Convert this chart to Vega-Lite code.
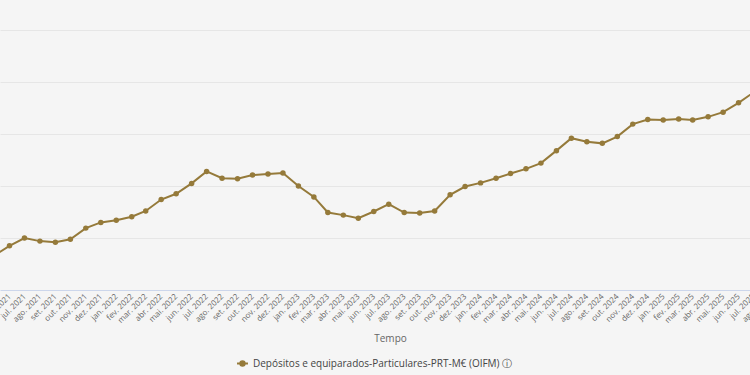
{
  "$schema": "https://vega.github.io/schema/vega-lite/v6.json",
  "autosize": "none",
  "padding": {"left": 0, "top": 0, "right": 0, "bottom": 85},
  "width": 775,
  "height": 290,
  "background": "#f5f5f5",
  "config": {
    "view": {"stroke": null},
    "font": "Open Sans"
  },
  "data": {
    "values": [
      {"mes": "2021-05-01", "valor": 166600, "serie": "Depósitos e equiparados-Particulares-PRT-M€ (OIFM)"},
      {"mes": "2021-06-01", "valor": 168500, "serie": "Depósitos e equiparados-Particulares-PRT-M€ (OIFM)"},
      {"mes": "2021-07-01", "valor": 170000, "serie": "Depósitos e equiparados-Particulares-PRT-M€ (OIFM)"},
      {"mes": "2021-08-01", "valor": 169400, "serie": "Depósitos e equiparados-Particulares-PRT-M€ (OIFM)"},
      {"mes": "2021-09-01", "valor": 169200, "serie": "Depósitos e equiparados-Particulares-PRT-M€ (OIFM)"},
      {"mes": "2021-10-01", "valor": 169750, "serie": "Depósitos e equiparados-Particulares-PRT-M€ (OIFM)"},
      {"mes": "2021-11-01", "valor": 171900, "serie": "Depósitos e equiparados-Particulares-PRT-M€ (OIFM)"},
      {"mes": "2021-12-01", "valor": 173000, "serie": "Depósitos e equiparados-Particulares-PRT-M€ (OIFM)"},
      {"mes": "2022-01-01", "valor": 173400, "serie": "Depósitos e equiparados-Particulares-PRT-M€ (OIFM)"},
      {"mes": "2022-02-01", "valor": 174100, "serie": "Depósitos e equiparados-Particulares-PRT-M€ (OIFM)"},
      {"mes": "2022-03-01", "valor": 175200, "serie": "Depósitos e equiparados-Particulares-PRT-M€ (OIFM)"},
      {"mes": "2022-04-01", "valor": 177400, "serie": "Depósitos e equiparados-Particulares-PRT-M€ (OIFM)"},
      {"mes": "2022-05-01", "valor": 178500, "serie": "Depósitos e equiparados-Particulares-PRT-M€ (OIFM)"},
      {"mes": "2022-06-01", "valor": 180500, "serie": "Depósitos e equiparados-Particulares-PRT-M€ (OIFM)"},
      {"mes": "2022-07-01", "valor": 182800, "serie": "Depósitos e equiparados-Particulares-PRT-M€ (OIFM)"},
      {"mes": "2022-08-01", "valor": 181500, "serie": "Depósitos e equiparados-Particulares-PRT-M€ (OIFM)"},
      {"mes": "2022-09-01", "valor": 181400, "serie": "Depósitos e equiparados-Particulares-PRT-M€ (OIFM)"},
      {"mes": "2022-10-01", "valor": 182100, "serie": "Depósitos e equiparados-Particulares-PRT-M€ (OIFM)"},
      {"mes": "2022-11-01", "valor": 182300, "serie": "Depósitos e equiparados-Particulares-PRT-M€ (OIFM)"},
      {"mes": "2022-12-01", "valor": 182500, "serie": "Depósitos e equiparados-Particulares-PRT-M€ (OIFM)"},
      {"mes": "2023-01-01", "valor": 180000, "serie": "Depósitos e equiparados-Particulares-PRT-M€ (OIFM)"},
      {"mes": "2023-02-01", "valor": 177900, "serie": "Depósitos e equiparados-Particulares-PRT-M€ (OIFM)"},
      {"mes": "2023-03-01", "valor": 174900, "serie": "Depósitos e equiparados-Particulares-PRT-M€ (OIFM)"},
      {"mes": "2023-04-01", "valor": 174400, "serie": "Depósitos e equiparados-Particulares-PRT-M€ (OIFM)"},
      {"mes": "2023-05-01", "valor": 173800, "serie": "Depósitos e equiparados-Particulares-PRT-M€ (OIFM)"},
      {"mes": "2023-06-01", "valor": 175100, "serie": "Depósitos e equiparados-Particulares-PRT-M€ (OIFM)"},
      {"mes": "2023-07-01", "valor": 176500, "serie": "Depósitos e equiparados-Particulares-PRT-M€ (OIFM)"},
      {"mes": "2023-08-01", "valor": 174900, "serie": "Depósitos e equiparados-Particulares-PRT-M€ (OIFM)"},
      {"mes": "2023-09-01", "valor": 174800, "serie": "Depósitos e equiparados-Particulares-PRT-M€ (OIFM)"},
      {"mes": "2023-10-01", "valor": 175200, "serie": "Depósitos e equiparados-Particulares-PRT-M€ (OIFM)"},
      {"mes": "2023-11-01", "valor": 178300, "serie": "Depósitos e equiparados-Particulares-PRT-M€ (OIFM)"},
      {"mes": "2023-12-01", "valor": 179900, "serie": "Depósitos e equiparados-Particulares-PRT-M€ (OIFM)"},
      {"mes": "2024-01-01", "valor": 180600, "serie": "Depósitos e equiparados-Particulares-PRT-M€ (OIFM)"},
      {"mes": "2024-02-01", "valor": 181500, "serie": "Depósitos e equiparados-Particulares-PRT-M€ (OIFM)"},
      {"mes": "2024-03-01", "valor": 182400, "serie": "Depósitos e equiparados-Particulares-PRT-M€ (OIFM)"},
      {"mes": "2024-04-01", "valor": 183300, "serie": "Depósitos e equiparados-Particulares-PRT-M€ (OIFM)"},
      {"mes": "2024-05-01", "valor": 184400, "serie": "Depósitos e equiparados-Particulares-PRT-M€ (OIFM)"},
      {"mes": "2024-06-01", "valor": 186800, "serie": "Depósitos e equiparados-Particulares-PRT-M€ (OIFM)"},
      {"mes": "2024-07-01", "valor": 189200, "serie": "Depósitos e equiparados-Particulares-PRT-M€ (OIFM)"},
      {"mes": "2024-08-01", "valor": 188500, "serie": "Depósitos e equiparados-Particulares-PRT-M€ (OIFM)"},
      {"mes": "2024-09-01", "valor": 188200, "serie": "Depósitos e equiparados-Particulares-PRT-M€ (OIFM)"},
      {"mes": "2024-10-01", "valor": 189500, "serie": "Depósitos e equiparados-Particulares-PRT-M€ (OIFM)"},
      {"mes": "2024-11-01", "valor": 191900, "serie": "Depósitos e equiparados-Particulares-PRT-M€ (OIFM)"},
      {"mes": "2024-12-01", "valor": 192800, "serie": "Depósitos e equiparados-Particulares-PRT-M€ (OIFM)"},
      {"mes": "2025-01-01", "valor": 192700, "serie": "Depósitos e equiparados-Particulares-PRT-M€ (OIFM)"},
      {"mes": "2025-02-01", "valor": 192900, "serie": "Depósitos e equiparados-Particulares-PRT-M€ (OIFM)"},
      {"mes": "2025-03-01", "valor": 192700, "serie": "Depósitos e equiparados-Particulares-PRT-M€ (OIFM)"},
      {"mes": "2025-04-01", "valor": 193300, "serie": "Depósitos e equiparados-Particulares-PRT-M€ (OIFM)"},
      {"mes": "2025-05-01", "valor": 194200, "serie": "Depósitos e equiparados-Particulares-PRT-M€ (OIFM)"},
      {"mes": "2025-06-01", "valor": 196000, "serie": "Depósitos e equiparados-Particulares-PRT-M€ (OIFM)"},
      {"mes": "2025-07-01", "valor": 198000, "serie": "Depósitos e equiparados-Particulares-PRT-M€ (OIFM)"},
      {"mes": "2025-08-01", "valor": 199500, "serie": "Depósitos e equiparados-Particulares-PRT-M€ (OIFM)"}
    ]
  },
  "encoding": {
    "x": {
      "field": "mes",
      "type": "temporal",
      "scale": {
        "domain": [
          {"year": 2021, "month": 5, "date": 13, "utc": true},
          {"year": 2025, "month": 8, "date": 13, "utc": true}
        ]
      },
      "axis": {
        "values": [
          {"year": 2021, "month": 6, "date": 1, "utc": true},
          {"year": 2021, "month": 7, "date": 1, "utc": true},
          {"year": 2021, "month": 8, "date": 1, "utc": true},
          {"year": 2021, "month": 9, "date": 1, "utc": true},
          {"year": 2021, "month": 10, "date": 1, "utc": true},
          {"year": 2021, "month": 11, "date": 1, "utc": true},
          {"year": 2021, "month": 12, "date": 1, "utc": true},
          {"year": 2022, "month": 1, "date": 1, "utc": true},
          {"year": 2022, "month": 2, "date": 1, "utc": true},
          {"year": 2022, "month": 3, "date": 1, "utc": true},
          {"year": 2022, "month": 4, "date": 1, "utc": true},
          {"year": 2022, "month": 5, "date": 1, "utc": true},
          {"year": 2022, "month": 6, "date": 1, "utc": true},
          {"year": 2022, "month": 7, "date": 1, "utc": true},
          {"year": 2022, "month": 8, "date": 1, "utc": true},
          {"year": 2022, "month": 9, "date": 1, "utc": true},
          {"year": 2022, "month": 10, "date": 1, "utc": true},
          {"year": 2022, "month": 11, "date": 1, "utc": true},
          {"year": 2022, "month": 12, "date": 1, "utc": true},
          {"year": 2023, "month": 1, "date": 1, "utc": true},
          {"year": 2023, "month": 2, "date": 1, "utc": true},
          {"year": 2023, "month": 3, "date": 1, "utc": true},
          {"year": 2023, "month": 4, "date": 1, "utc": true},
          {"year": 2023, "month": 5, "date": 1, "utc": true},
          {"year": 2023, "month": 6, "date": 1, "utc": true},
          {"year": 2023, "month": 7, "date": 1, "utc": true},
          {"year": 2023, "month": 8, "date": 1, "utc": true},
          {"year": 2023, "month": 9, "date": 1, "utc": true},
          {"year": 2023, "month": 10, "date": 1, "utc": true},
          {"year": 2023, "month": 11, "date": 1, "utc": true},
          {"year": 2023, "month": 12, "date": 1, "utc": true},
          {"year": 2024, "month": 1, "date": 1, "utc": true},
          {"year": 2024, "month": 2, "date": 1, "utc": true},
          {"year": 2024, "month": 3, "date": 1, "utc": true},
          {"year": 2024, "month": 4, "date": 1, "utc": true},
          {"year": 2024, "month": 5, "date": 1, "utc": true},
          {"year": 2024, "month": 6, "date": 1, "utc": true},
          {"year": 2024, "month": 7, "date": 1, "utc": true},
          {"year": 2024, "month": 8, "date": 1, "utc": true},
          {"year": 2024, "month": 9, "date": 1, "utc": true},
          {"year": 2024, "month": 10, "date": 1, "utc": true},
          {"year": 2024, "month": 11, "date": 1, "utc": true},
          {"year": 2024, "month": 12, "date": 1, "utc": true},
          {"year": 2025, "month": 1, "date": 1, "utc": true},
          {"year": 2025, "month": 2, "date": 1, "utc": true},
          {"year": 2025, "month": 3, "date": 1, "utc": true},
          {"year": 2025, "month": 4, "date": 1, "utc": true},
          {"year": 2025, "month": 5, "date": 1, "utc": true},
          {"year": 2025, "month": 6, "date": 1, "utc": true},
          {"year": 2025, "month": 7, "date": 1, "utc": true},
          {"year": 2025, "month": 8, "date": 1, "utc": true}
        ],
        "labelExpr": "['jan.','fev.','mar.','abr.','mai.','jun.','jul.','ago.','set.','out.','nov.','dez.'][utcmonth(datum.value)] + ' ' + utcyear(datum.value)",
        "labelAngle": -45,
        "labelAlign": "right",
        "labelBaseline": "middle",
        "labelOverlap": false,
        "labelBound": false,
        "labelFlush": false,
        "labelFontSize": 8,
        "labelColor": "#666666",
        "labelPadding": 5,
        "ticks": false,
        "grid": false,
        "domainColor": "#ccd6eb",
        "domainWidth": 1,
        "title": "Tempo",
        "titleFontSize": 10,
        "titleFontWeight": "normal",
        "titleColor": "#666666",
        "titleX": 390,
        "titleY": 48,
        "titleAlign": "center",
        "titleBaseline": "middle"
      }
    },
    "y": {
      "field": "valor",
      "type": "quantitative",
      "scale": {"domain": [160000, 215769], "nice": false, "zero": false},
      "axis": {
        "values": [170000, 180000, 190000, 200000, 210000],
        "labels": false,
        "ticks": false,
        "domain": false,
        "grid": true,
        "gridColor": "#e6e6e6",
        "gridWidth": 1,
        "title": null
      }
    },
    "color": {
      "field": "serie",
      "type": "nominal",
      "scale": {"range": ["#957a3a"]},
      "legend": {
        "orient": "none",
        "legendX": 236,
        "legendY": 357,
        "title": null,
        "direction": "horizontal",
        "symbolType": "M -1 0 L 1 0 M 0.4 0 A 0.4 0.4 0 1 1 -0.4 0 A 0.4 0.4 0 1 1 0.4 0",
        "symbolSize": 120,
        "symbolStrokeWidth": 2,
        "symbolFillColor": "#957a3a",
        "symbolStrokeColor": "#957a3a",
        "labelFontSize": 10,
        "labelColor": "#444444",
        "labelExpr": "datum.label + ' ⓘ'",
        "labelLimit": 400
      }
    }
  },
  "layer": [
    {"mark": {"type": "line", "strokeWidth": 2, "clip": true}},
    {"mark": {"type": "point", "filled": true, "size": 30, "opacity": 1, "clip": true}}
  ]
}
